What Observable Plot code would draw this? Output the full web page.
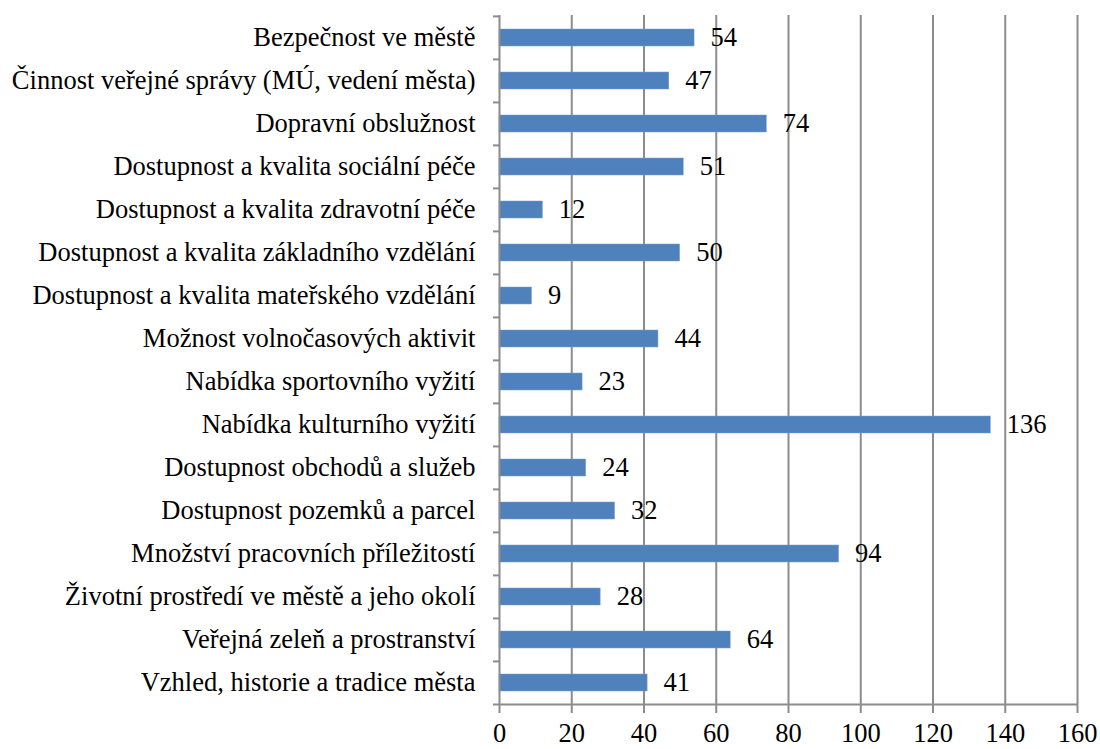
<!DOCTYPE html>
<html>
<head>
<meta charset="utf-8">
<script src="https://cdn.jsdelivr.net/npm/d3@7"></script>
<script src="https://cdn.jsdelivr.net/npm/@observablehq/plot@0.6"></script>
<style>
  html, body { margin: 0; padding: 0; background: #fff; }
  #chart { width: 1100px; height: 749px; }
</style>
</head>
<body>
<div id="chart"></div>
<script>
const categories = [
  "Bezpečnost ve městě",
  "Činnost veřejné správy (MÚ, vedení města)",
  "Dopravní obslužnost",
  "Dostupnost a kvalita sociální péče",
  "Dostupnost a kvalita zdravotní péče",
  "Dostupnost a kvalita základního vzdělání",
  "Dostupnost a kvalita mateřského vzdělání",
  "Možnost volnočasových aktivit",
  "Nabídka sportovního vyžití",
  "Nabídka kulturního vyžití",
  "Dostupnost obchodů a služeb",
  "Dostupnost pozemků a parcel",
  "Množství pracovních příležitostí",
  "Životní prostředí ve městě a jeho okolí",
  "Veřejná zeleň a prostranství",
  "Vzhled, historie a tradice města"
];
const values = [54, 47, 74, 51, 12, 50, 9, 44, 23, 136, 24, 32, 94, 28, 64, 41];
const xTicks = [0, 20, 40, 60, 80, 100, 120, 140, 160];

const data = categories.map((c, i) => ({category: c, value: values[i]}));

const marginTop = 15, marginBottom = 43, height = 749;
const marginLeft = 499, marginRight = 23, width = 1100;
const step = (height - marginTop - marginBottom) / categories.length;
const pxPerUnit = (width - marginLeft - marginRight) / 160;
const lastCat = categories[categories.length - 1];
const gridColor = "#8c8c8c";
const fontSize = 26.5;
const fontFamily = "Liberation Serif";

const chart = Plot.plot({
  width, height, marginLeft, marginRight, marginTop, marginBottom,
  style: {fontFamily: fontFamily, fontSize: fontSize + "px", color: "#000", background: "#fff"},
  x: {domain: [0, 160], label: null},
  y: {domain: categories, paddingInner: 0.6, paddingOuter: 0.3, label: null},
  marks: [
    Plot.ruleX(xTicks.slice(1), {stroke: gridColor, strokeWidth: 2}),
    Plot.axisX({ticks: xTicks, tickSize: 7, tickPadding: 10, stroke: gridColor, strokeWidth: 2, strokeOpacity: 1, fill: "#000", fontSize, fontFamily, label: null}),
    Plot.axisY({tickSize: 0, tickPadding: 24, fill: "#000", fontSize, fontFamily, label: null}),
    Plot.barX(data, {y: "category", x: "value", fill: "#4f81bd", stroke: "#7a9fd0", strokeWidth: 0.5}),
    Plot.text(data, {y: "category", x: "value", text: d => String(d.value), textAnchor: "start", dx: 16, fontSize, fontFamily, fill: "#000"}),
    Plot.ruleY(categories, {y: d => d, x1: -6 / pxPerUnit, x2: 0, dy: -step / 2, stroke: gridColor, strokeWidth: 2}),
    Plot.ruleY([lastCat], {y: d => d, x1: -6 / pxPerUnit, x2: 160, dy: step / 2, stroke: gridColor, strokeWidth: 2}),
    Plot.ruleX([0], {stroke: gridColor, strokeWidth: 2})
  ]
});
document.getElementById("chart").appendChild(chart);
</script>
</body>
</html>
